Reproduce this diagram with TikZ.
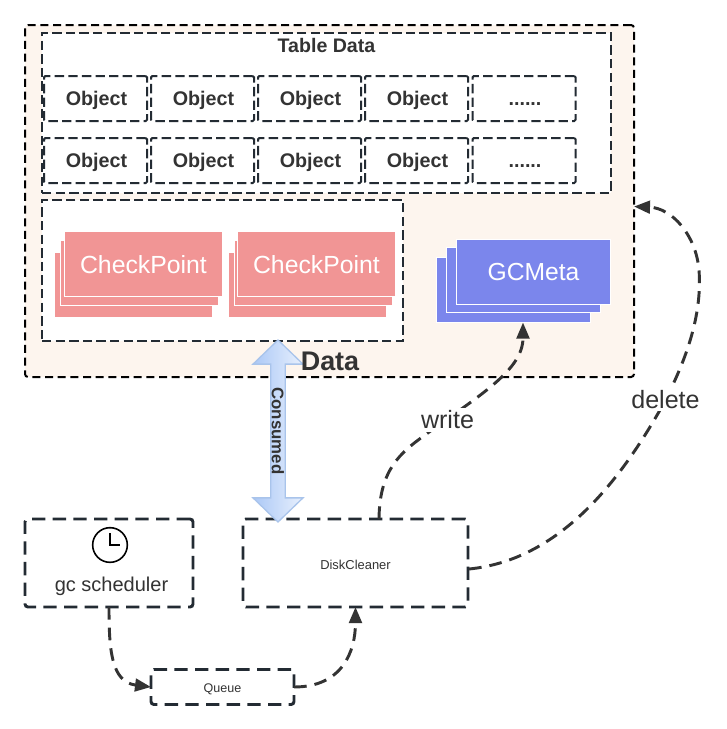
\documentclass[tikz,border=0pt]{standalone}
\usepackage{fontspec}
\setmainfont{Liberation Sans}
\usetikzlibrary{arrows.meta,calc,shapes.arrows}
\definecolor{ink}{HTML}{333333}
\definecolor{edge}{HTML}{232B33}
\definecolor{cream}{HTML}{FDF5EE}
\definecolor{pink}{HTML}{F19595}
\definecolor{violet}{HTML}{7B86EC}
\definecolor{arrowline}{HTML}{A9C4EB}
\definecolor{arrowdeep}{HTML}{ABC8F6}
\definecolor{arrowpale}{HTML}{E8F0FD}
\def\moredots{......}
\tikzset{
  wh/.style 2 args={minimum width=#1*0.75pt,minimum height=#2*0.75pt,inner sep=0pt,outer sep=0pt},
  capcentre/.style={text height=#1*0.72pt,text depth=0pt},
  outerbox/.style={draw=black,fill=cream,line width=1.5pt,dash pattern=on 6pt off 3.5pt,rounded corners=2.2pt},
  groupbox/.style={draw=edge,fill=white,line width=1.5pt,dash pattern=on 7pt off 3.2pt},
  objbox/.style={draw=edge,fill=white,line width=1.5pt,dash pattern=on 7pt off 3.2pt,rounded corners=1pt,wh={103}{45},capcentre=14.8,text=ink,font=\fontsize{14.8}{14.8}\selectfont\bfseries},
  procbox/.style={draw=edge,fill=white,line width=2.2pt,dash pattern=on 10pt off 5.5pt,rounded corners=2.2pt,text=ink},
  cardpink/.style={fill=pink,draw=white,line width=0.75pt,wh={158}{65},text=white,capcentre=18.6,font=\fontsize{18.6}{18.6}\selectfont},
  cardviolet/.style={fill=violet,draw=white,line width=0.75pt,wh={154}{65},text=white,capcentre=18.5,font=\fontsize{18.5}{18.5}\selectfont},
  flow/.style={draw=ink,line width=2.2pt,dash pattern=on 9.5pt off 6pt,-{Triangle[length=12pt,width=9.5pt,fill=ink]}},
  flowlabel/.style={fill=white,text=ink,inner sep=2pt,font=\fontsize{18.8}{18.8}\selectfont},
}
\begin{document}
\begin{tikzpicture}[x=0.75pt,y=-0.75pt]
\useasboundingbox (0,0) rectangle (726,729);
\node[outerbox,wh={609}{352}] (data) at (329.5,201) {};
\node[groupbox,wh={569}{160}] (table) at (326.5,113) {};
\node[text=ink,inner sep=0pt,font=\fontsize{14.7}{14.7}\selectfont\bfseries] (tabletitle) at (326.5,45) {Table Data};
\foreach \n/\x/\t in {1/95.5/Object,2/202.5/Object,3/309.5/Object,4/416.5/Object,5/524/\moredots}{
  \node[objbox] (a\n) at (\x,98.5) {\hspace*{1.5pt}\t};
  \node[objbox] (b\n) at (\x,160.5) {\hspace*{1.5pt}\t};
}
\node[groupbox,wh={361}{141}] (cpgroup) at (222.5,270.5) {};
% first checkpoint stack
\node[cardpink] (c1back) at (133.5,284.5) {};
\node[cardpink] (c1mid) at (139.5,273) {};
\node[cardpink] (c1front) at (143.5,264) {\raisebox{-0.75pt}{CheckPoint}};
% second checkpoint stack
\node[cardpink] (c2back) at (307.5,284.5) {};
\node[cardpink] (c2mid) at (313,273) {};
\node[cardpink] (c2front) at (316.5,264) {\raisebox{-0.75pt}{CheckPoint}};
% GCMeta stack
\node[cardviolet] (g1back) at (513.5,290) {};
\node[cardviolet] (g1mid) at (523,280) {};
\node[cardviolet] (g1front) at (533.5,272) {GCMeta};
% lower boxes
\node[procbox,wh={168}{88}] (sched) at (109,563) {};
\node[procbox,wh={225}{88},capcentre=9.7,font=\fontsize{9.7}{9.7}\selectfont] (disk) at (355.5,563) {\raisebox{-1.2pt}{DiskCleaner}};
\node[procbox,wh={143}{35},capcentre=9.4,font=\fontsize{9.4}{9.4}\selectfont] (queue) at (222.5,687) {\raisebox{-0.75pt}{Queue}};
\node[circle,draw=black,line width=1.2pt,fill=white,minimum size=26pt,inner sep=0pt] (clock) at (110,545) {};
\draw[black,line width=1.2pt] ($(clock.center)+(0,-12)$) -- (clock.center) -- ($(clock.center)+(10,0)$);
\node[text=ink,inner sep=0pt,font=\fontsize{15}{15}\selectfont] (schedlabel) at (111.5,586.5) {gc scheduler};
% connectors
\draw[flow] (sched.south) .. controls ($(sched.south)+(0,42)$) and ($(queue.west)+(-40,-5)$) .. (queue.west);
\draw[flow] (queue.east) .. controls ($(queue.east)+(48,0)$) and ($(disk.south)+(0,45)$) .. (disk.south);
\draw[flow] ($(disk.north)+(23.5,0)$) .. controls ($(disk.north)+(24,-49)$) and (400,453) .. (425,435)
  .. controls (480,395) and (523,370) .. ($(g1back.south)+(9.5,0)$);
\draw[flow] ($(disk.east)+(1,6)$) .. controls (560,560) and (620,480) .. (660,410)
  .. controls (690,355) and (702,310) .. (699,270)
  .. controls (696,235) and (672,208) .. ($(data.east)+(0,5.5)$);
\node[flowlabel] (writelabel) at (447.5,420) {write};
\node[flowlabel] (deletelabel) at (665.5,399.5) {delete};
% consumed arrow
\node[double arrow,draw=arrowline,line width=1pt,left color=arrowdeep,right color=arrowpale,
  rotate=-90,minimum height=136.5pt,minimum width=37.5pt,inner sep=0pt,
  double arrow head extend=12.4pt,double arrow tip angle=92,text=ink,
  font=\fontsize{12.6}{12.6}\selectfont\bfseries] (consumed) at (278,431) {Consumed};
\node[text=ink,inner sep=0pt,font=\fontsize{20.2}{20.2}\selectfont\bfseries] (datalabel) at (330,361) {Data};
\end{tikzpicture}
\end{document}
